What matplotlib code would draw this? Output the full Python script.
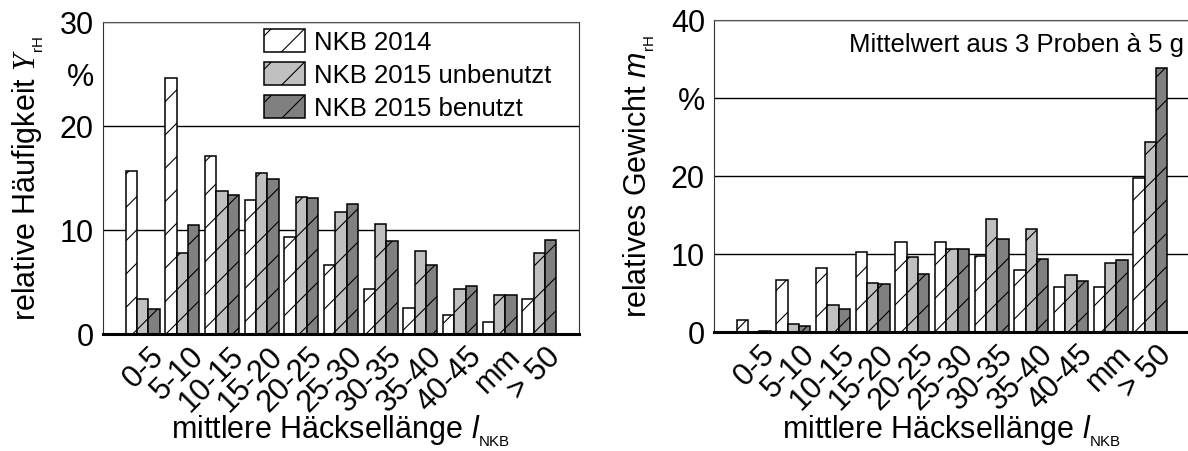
import numpy as np
import matplotlib
matplotlib.use('Agg')
from matplotlib import pyplot as plt
from matplotlib.transforms import ScaledTranslation

plt.rcParams['font.family'] = ['Liberation Sans', 'DejaVu Sans']
plt.rcParams['mathtext.fontset'] = 'custom'
plt.rcParams['mathtext.rm'] = 'Liberation Sans'
plt.rcParams['mathtext.it'] = 'Liberation Sans:italic'
plt.rcParams['mathtext.cal'] = 'Liberation Serif:italic'
plt.rcParams['hatch.linewidth'] = 0.8

classes = ['0-5', '5-10', '10-15', '15-20', '20-25', '25-30', '30-35',
           '35-40', '40-45', 'mm', '> 50']
series = ['NKB 2014', 'NKB 2015 unbenutzt', 'NKB 2015 benutzt']
colors = ['white', '#c0c0c0', '#808080']

# relative Häufigkeit in %
freq_2014 = [15.7, 24.6, 17.1, 12.9, 9.3, 6.6, 4.3, 2.5, 1.8, 1.2, 3.4]
freq_2015_new = [3.4, 7.8, 13.7, 15.5, 13.2, 11.7, 10.6, 8.0, 4.3, 3.7, 7.8]
freq_2015_used = [2.4, 10.5, 13.4, 14.9, 13.1, 12.5, 8.9, 6.6, 4.6, 3.7, 9.0]

# relatives Gewicht in %
mass_2014 = [1.6, 6.7, 8.2, 10.2, 11.5, 11.6, 9.7, 7.9, 5.8, 5.8, 19.7]
mass_2015_new = [0.0, 1.0, 3.5, 6.3, 9.6, 10.7, 14.5, 13.2, 7.3, 8.8, 24.3]
mass_2015_used = [0.15, 0.8, 3.0, 6.2, 7.5, 10.6, 11.9, 9.4, 6.6, 9.2, 33.8]

W, H = 1188, 452
fig = plt.figure(figsize=(W / 100, H / 100), dpi=100)


def px_axes(x0, y0, x1, y1):
    return fig.add_axes([x0 / W, 1 - y1 / H, (x1 - x0) / W, (y1 - y0) / H])


def bars(ax, data, label_y):
    x = np.arange(len(classes))
    w = 0.285
    for k, vals in enumerate(data):
        ax.bar(x + (k - 1) * w, vals, w, color=colors[k], edgecolor='black',
               hatch='/', linewidth=1.1, label=series[k], zorder=2)
    ax.set_xlim(-1, len(classes))
    ax.tick_params(length=0, labelsize=22, pad=6.5)
    ax.tick_params(axis='x', pad=14)
    ax.set_xticks(x, classes, rotation=45, ha='right', va='center',
                  rotation_mode='anchor')
    # schräge Beschriftung etwas nach rechts schieben
    shift = ScaledTranslation(0.17, 0.02, fig.dpi_scale_trans)
    for lbl in ax.xaxis.get_majorticklabels():
        lbl.set_transform(lbl.get_transform() + shift)
    ax.yaxis.grid(True, which='major', color='black', linewidth=1.0)
    ax.set_axisbelow(True)
    ax.spines['bottom'].set_linewidth(2.2)
    ax.spines['left'].set_color('#333333')
    ax.spines['top'].set_color('#555555')
    ax.set_xlabel(r'mittlere Häcksellänge $\mathit{l}_{{}_{\mathrm{NKB}}}$',
                  fontsize=22)
    ax.xaxis.set_label_coords(0.5, label_y)


ax1 = px_axes(103, 22.7, 579, 335)
bars(ax1, [freq_2014, freq_2015_new, freq_2015_used], -0.251)
ax1.set_ylim(0, 30)
ax1.set_yticks([0, 10, 20, 30])
ax1.set_yticks([25], ['%'], minor=True)
ax1.tick_params(which='minor', length=0, labelsize=22, pad=6.5)
ax1.spines['right'].set_color('#333333')
ax1.set_ylabel(r'relative Häufigkeit $\mathcal{Y}_{{}_{\mathrm{rH}}}$',
               fontsize=22, labelpad=10)
ax1.legend(loc='upper left', bbox_to_anchor=(263.6 / W, 1 - 30 / H),
           bbox_transform=fig.transFigure, frameon=False, borderpad=0,
           fontsize=18.5, handlelength=1.6, handleheight=1.0,
           handletextpad=0.37, labelspacing=0.3, borderaxespad=0)

ax2 = px_axes(714, 21, 1190, 333)
bars(ax2, [mass_2014, mass_2015_new, mass_2015_used], -0.256)
ax2.set_ylim(0, 40)
ax2.set_yticks([0, 10, 20, 30, 40], ['0', '10', '20', '%', '40'])
ax2.spines['right'].set_visible(False)
ax2.set_ylabel(r'relatives Gewicht $\mathit{m}_{{}_{\mathrm{rH}}}$',
               fontsize=22, labelpad=10)
ax2.text(0.987, 0.923, 'Mittelwert aus 3 Proben à 5 g', transform=ax2.transAxes,
         ha='right', va='center', fontsize=18.5)

fig.savefig('out.png', dpi=100)
